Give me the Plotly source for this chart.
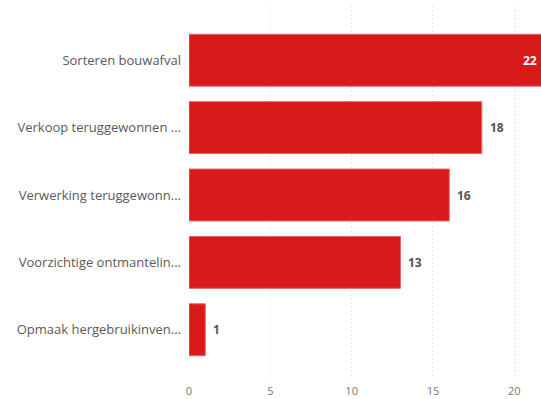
import plotly.graph_objects as go

categories = [
    "Sorteren bouwafval",
    "Verkoop teruggewonnen ...",
    "Verwerking teruggewonn...",
    "Voorzichtige ontmantelin...",
    "Opmaak hergebruikinven...",
]
values = [22, 18, 16, 13, 1]
x_ticks = [0, 5, 10, 15, 20]

bar_color = "#D91A1A"
x_max = 21.64
label_font = "Segoe UI, Open Sans, sans-serif"

fig = go.Figure(
    go.Bar(
        y=categories,
        x=values,
        orientation="h",
        width=0.77,
        marker=dict(color=bar_color, line=dict(color="#E36464", width=1)),
        cliponaxis=True,
        hoverinfo="skip",
    )
)

# Value labels: inside (white) when the bar runs past the visible range,
# otherwise just beyond the bar end.
for cat, v in zip(categories, values):
    if v > x_max - 1.5:
        fig.add_annotation(
            x=min(v, x_max), y=cat, xref="x", yref="y",
            text=f"<b>{v}</b>", showarrow=False,
            xanchor="right", xshift=-2,
            font=dict(family=label_font, size=12, color="#FFFFFF"),
        )
    else:
        fig.add_annotation(
            x=v, y=cat, xref="x", yref="y",
            text=f"<b>{v}</b>", showarrow=False,
            xanchor="left", xshift=6,
            font=dict(family=label_font, size=12, color="#555555"),
        )

fig.update_layout(
    width=541,
    height=399,
    margin=dict(l=189, r=0, t=7, b=16),
    paper_bgcolor="white",
    plot_bgcolor="white",
    showlegend=False,
    font=dict(family=label_font),
)

fig.update_xaxes(
    range=[0, x_max],
    tickvals=x_ticks,
    ticktext=[str(t) for t in x_ticks],
    showgrid=True,
    gridcolor="#D9D9D9",
    griddash="1px,3px",
    gridwidth=1,
    zeroline=False,
    showline=False,
    ticks="",
    tickfont=dict(size=11, color="#777777"),
)

fig.update_yaxes(
    categoryorder="array",
    categoryarray=categories,
    range=[len(categories) - 1 + 0.79, -0.79],
    showgrid=False,
    zeroline=False,
    showline=False,
    ticks="",
    ticklabelstandoff=7,
    tickfont=dict(size=13, color="#5A5A5A"),
)

fig.write_html("out.html")
